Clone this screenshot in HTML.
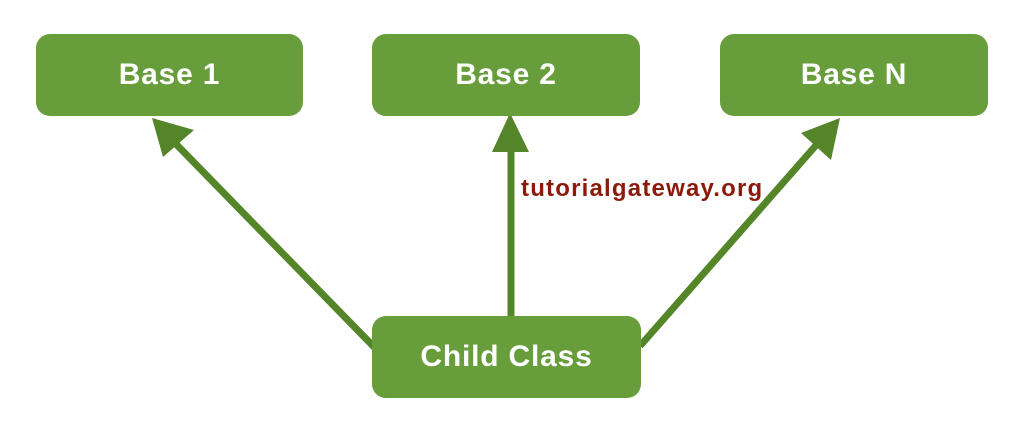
<!DOCTYPE html>
<html><head><style>
body{margin:0;width:1024px;height:434px;background:#fff;overflow:hidden;position:relative;font-family:"Liberation Sans",sans-serif}
.b{position:absolute;background:#679d3a;border-radius:14px;color:#fff;font-weight:bold;font-size:30px;letter-spacing:0.8px;display:flex;align-items:center;justify-content:center;height:82px}
</style></head><body>
<svg width="1024" height="434" style="position:absolute;left:0;top:0">
<g stroke="#548528" stroke-width="7" fill="none">
<line x1="376" y1="349" x2="175" y2="143"/>
<line x1="511" y1="316" x2="511" y2="150"/>
<line x1="640" y1="346" x2="818" y2="143"/>
</g>
<g fill="#548528">
<polygon points="152,118 194,130 163,157"/>
<polygon points="510,113 529,152 492,152"/>
<polygon points="840,118 831,160 801,133"/>
</g>
</svg>
<div class="b" style="left:36px;top:34px;width:267px">Base 1</div>
<div class="b" style="left:372px;top:34px;width:268px">Base 2</div>
<div class="b" style="left:720px;top:34px;width:268px">Base N</div>
<div class="b" style="left:372px;top:316px;width:269px">Child Class</div>
<div style="position:absolute;left:521px;top:175px;font-weight:bold;font-size:24px;letter-spacing:1.2px;color:#8b1a0a">tutorialgateway.org</div>
</body></html>
